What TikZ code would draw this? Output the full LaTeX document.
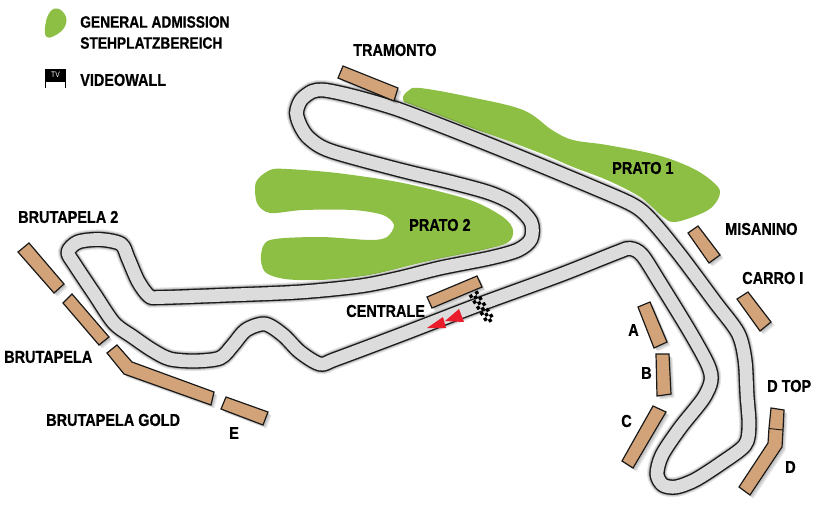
\documentclass[tikz,border=0pt]{standalone}
\usepackage{fontspec}
\setmainfont[FakeStretch=0.84,BoldFeatures={FakeStretch=0.84,FakeBold=0.7}]{Liberation Sans}
\definecolor{grass}{HTML}{8CBF44}
\definecolor{tanbox}{HTML}{D2A378}
\definecolor{trackgrey}{HTML}{DCDCDC}
\definecolor{flagred}{HTML}{EA1C2C}
\tikzset{
  x=0.75pt,y=-0.75pt,
  lbl/.style={anchor=west,inner sep=0pt,text=black,font=\fontsize{12.9pt}{14pt}\selectfont\bfseries},
  legendlbl/.style={lbl,font=\fontsize{12.3pt}{14pt}\selectfont\bfseries},
  standbox/.style={fill=tanbox,draw=black!90,line width=0.9pt,line join=miter},
  softshadow/.style={fill=black,fill opacity=0.09},
  grassarea/.style={fill=grass,draw=none},
  circuit/.style={insert path={plot[smooth cycle,tension=0.5] coordinates {
    (320,364) (336,359) (400,335) (478,305) (560,275) (618,252) (630,248.5) (642,255) (660,283) (690,332) (708,365) (711,381)
    (703,399) (680,428) (662,455) (657,474) (663,485) (676,487) (695,480) (720,464) (745,445)
    (749,425) (747,395) (745,360) (738,333) (715,302) (680,255) (652,221) (633,205)
    (590,186) (520,157) (460,133) (400,110) (360,98) (335,92) (322,90) (312,91.5) (301,100) (296.5,113) (301,127) (310,139) (331,151)
    (400,170) (450,182) (490,193) (515,205) (531,222) (531,239) (518,250) (490,258) (440,268) (400,278) (360,286) (300,292)
    (230,295) (160,297.5) (149,296) (138,281) (128,258) (121,244) (100,239.5) (78,242) (68,252) (75,265) (95,295) (114,323) (133,337)
    (152,350) (170,359) (195,361) (220,358) (233,345) (246,330) (265,324) (283,335) (300,352)
  }}},
  prata/.style={insert path={plot[smooth cycle,tension=0.6] coordinates {
    (403,99) (408,91) (420,88) (470,97) (523,110) (552,130) (573,140) (607,145) (657,155) (692,168) (713,182) (720,193)
    (711,208) (690,218) (673,222) (663,217) (650,205) (637,195) (607,180) (573,167) (540,153) (483,132) (437,118) (411,108)
  }}},
  pratb/.style={insert path={plot[smooth cycle,tension=0.5] coordinates {
    (270,170) (287,169) (337,173) (403,183) (470,200) (503,217) (513,230) (507,243) (470,253) (420,263)
    (370,275) (320,280) (285,279) (265,272) (261,255) (270,240) (320,237) (370,240) (387,237) (394,225)
    (383,215) (353,210) (303,210) (270,213) (257,203) (256,182)
  }}},
  blob/.style={insert path={plot[smooth cycle,tension=0.7] coordinates {
    (58,8.5) (66,17) (64,28) (54,36) (46,36.5) (45.5,24) (50,12)
  }}},
}
\newcommand{\standpoly}[1]{%
  \foreach \s in {1.5,2.5,3.5}{\fill[softshadow,shift={(\s,\s)}] #1;}
  \draw[standbox] #1;}
\begin{document}
\begin{tikzpicture}
\useasboundingbox (0,0) rectangle (813,507);
% grass
\fill[grassarea,blob];
\fill[grassarea,prata];
\fill[grassarea,pratb];
% white halo and track shadow
\draw[white,line width=12.6pt,line join=round,shift={(-0.7,-0.7)},circuit];
\foreach \s/\w in {3/15pt,3.5/13.5pt,4/12pt,2/12.5pt,3/11.5pt}{
  \draw[black,draw opacity=0.1,line width=\w,circuit,shift={(\s,\s)}];
}
\draw[black!90,line width=11.5pt,line join=round,circuit];
\draw[trackgrey,line width=9.5pt,line join=round,circuit];
% stands
\standpoly{(343,66) -- (398,88) -- (394,101) -- (338,78) -- cycle}
\standpoly{(427,297) -- (477,276) -- (482,287) -- (432,308) -- cycle}
\standpoly{(698,226) -- (720,255) -- (709,263) -- (688,233) -- cycle}
\standpoly{(748,292) -- (771,322) -- (760,331) -- (737,299) -- cycle}
\standpoly{(650,302) -- (667,342) -- (654,348) -- (638,307) -- cycle}
\standpoly{(656,354) -- (669,354) -- (671,394) -- (657,396) -- cycle}
\standpoly{(653,406) -- (666,412) -- (633,468) -- (622,461) -- cycle}
\standpoly{(771,408) -- (784,410) -- (783,430) -- (782,447) -- (750,495) -- (739,487) -- (768,443) -- (769,428) -- cycle}
\draw[black!90,line width=0.7pt] (769,428.5) -- (783,430);
\standpoly{(29,243) -- (64,284) -- (54,293) -- (18,252) -- cycle}
\standpoly{(72,294) -- (109,337) -- (99,345) -- (63,303) -- cycle}
\standpoly{(117,345) -- (132,362) -- (214,392) -- (211,405) -- (124,374) -- (107,353) -- cycle}
\standpoly{(226,397) -- (268,412) -- (263,425) -- (221,409) -- cycle}
% chequered flag
\begin{scope}[shift={(473,293)},rotate=-58]
  \foreach \i in {0,...,9}{
    \pgfmathtruncatemacro{\odd}{mod(\i,2)}
    \ifnum\odd=0
      \fill[black] (\i*3.4,-5.1) rectangle ++(3.4,3.4);
      \fill[black] (\i*3.4,1.7) rectangle ++(3.4,3.4);
    \else
      \fill[black] (\i*3.4,-1.7) rectangle ++(3.4,3.4);
    \fi
  }
\end{scope}
% start arrows
\fill[flagred] (427,328) -- (443,317) -- (446,328) -- cycle;
\fill[flagred] (445,321) -- (459,309) -- (464,322) -- cycle;
% videowall icon
\fill[black] (45,69) rectangle (66,80);
\draw[black,line width=0.8pt] (45.5,80) -- (45.5,88) (65.5,80) -- (65.5,88);
\draw[black,line width=0.8pt] (45,81) -- (66,81);
\node[inner sep=0pt,text=white,font=\fontsize{6pt}{6pt}\selectfont] (tv) at (55.5,74.5) {TV};
% labels
\node[legendlbl] (l1) at (80,22) {GENERAL ADMISSION};
\node[legendlbl] (l2) at (80,43) {STEHPLATZBEREICH};
\node[lbl] (l3) at (80,80) {VIDEOWALL};
\node[lbl] (l4) at (353,50) {TRAMONTO};
\node[lbl] (l5) at (612,168) {PRATO 1};
\node[lbl] (l6) at (409,225) {PRATO 2};
\node[lbl] (l7) at (18,217) {BRUTAPELA 2};
\node[lbl] (l8) at (4,357) {BRUTAPELA};
\node[lbl] (l9) at (46,420) {BRUTAPELA GOLD};
\node[lbl] (l10) at (229,433) {E};
\node[lbl] (l11) at (346,311) {CENTRALE};
\node[lbl] (l12) at (628,330) {A};
\node[lbl] (l13) at (641,373) {B};
\node[lbl] (l14) at (621,421) {C};
\node[lbl] (l15) at (785,467) {D};
\node[lbl] (l16) at (767,386) {D TOP};
\node[lbl] (l17) at (742,278) {CARRO I};
\node[lbl] (l18) at (725,229) {MISANINO};
\end{tikzpicture}
\end{document}
